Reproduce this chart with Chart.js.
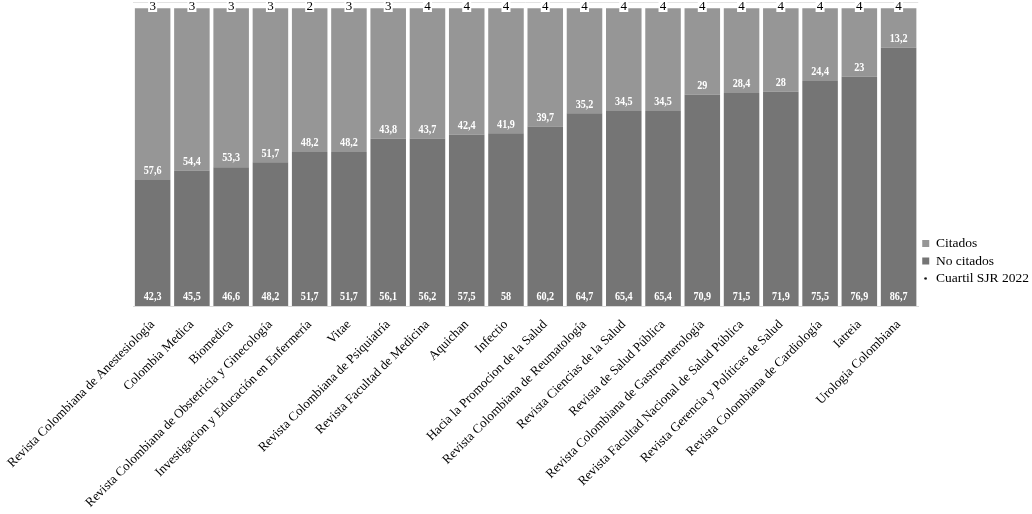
<!DOCTYPE html>
<html lang="es">

<head>
    <meta charset="UTF-8">
    <title>Citados / No citados</title>
    <script src="https://cdn.jsdelivr.net/npm/chart.js@4.4.0/dist/chart.umd.min.js"></script>
    <style>
        html, body { margin: 0; padding: 0; background: #fff; }
        #wrap { width: 1032px; height: 514px; }
    </style>
</head>

<body>
    <div id="wrap"><canvas id="myChart"></canvas></div>
    <script>

        const revistas = [
            'Revista Colombiana de Anestesiología', 'Colombia Medica', 'Biomedica',
            'Revista Colombiana de Obstetricia y Ginecología', 'Investigacion y Educación en Enfermería',
            'Vitae', 'Revista Colombiana de Psiquiatría', 'Revista Facultad de Medicina', 'Aquichan',
            'Infectio', 'Hacia la Promocion de la Salud', 'Revista Colombiana de Reumatología',
            'Revista Ciencias de la Salud', 'Revista de Salud Pública', 'Revista Colombiana de Gastroenterología',
            'Revista Facultad Nacional de Salud Pública', 'Revista Gerencia y Políticas de Salud',
            'Revista Colombiana de Cardiología', 'Iatreia', 'Urologia Colombiana'
        ];
        const noCitados = [42.3, 45.5, 46.6, 48.2, 51.7, 51.7, 56.1, 56.2, 57.5, 58, 60.2, 64.7, 65.4, 65.4, 70.9, 71.5, 71.9, 75.5, 76.9, 86.7];
        const citados = [57.6, 54.4, 53.3, 51.7, 48.2, 48.2, 43.8, 43.7, 42.4, 41.9, 39.7, 35.2, 34.5, 34.5, 29, 28.4, 28, 24.4, 23, 13.2];
        const cuartil = [3, 3, 3, 3, 2, 3, 3, 4, 4, 4, 4, 4, 4, 4, 4, 4, 4, 4, 4, 4];

        const SERIF = "'Liberation Serif', 'Times New Roman', serif";

        // small black dot used as point style (also shows in the legend)
        const dot = document.createElement('canvas');
        dot.width = 3; dot.height = 3;
        const dctx = dot.getContext('2d');
        dctx.fillStyle = '#000';
        dctx.beginPath(); dctx.arc(1.5, 1.5, 1.2, 0, Math.PI * 2); dctx.fill();

        function fmt(v) {
            return String(v).replace('.', ',');
        }

        const labelsPlugin = {
            id: 'labelsPlugin',
            afterDatasetsDraw(chart) {
                const ctx = chart.ctx;
                const area = chart.chartArea;
                ctx.save();
                // thin line over the plot
                ctx.strokeStyle = '#e3e3e3';
                ctx.lineWidth = 1;
                ctx.beginPath();
                ctx.moveTo(area.left, 2.5);
                ctx.lineTo(area.right, 2.5);
                ctx.stroke();

                ctx.textAlign = 'center';
                ctx.textBaseline = 'middle';
                ctx.font = 'bold 13px ' + SERIF;
                ctx.fillStyle = '#fff';
                [0, 1].forEach(function (i) {
                    const meta = chart.getDatasetMeta(i);
                    const vals = chart.data.datasets[i].data;
                    meta.data.forEach(function (bar, j) {
                        ctx.save();
                        ctx.translate(bar.x, bar.base - 9);
                        ctx.scale(0.78, 1);
                        ctx.fillText(fmt(vals[j]), 0, 0);
                        ctx.restore();
                    });
                });
                // quartile labels, boxed at the top
                const meta = chart.getDatasetMeta(2);
                ctx.font = '13px ' + SERIF;
                meta.data.forEach(function (pt, j) {
                    ctx.fillStyle = '#fff';
                    ctx.fillRect(pt.x - 4.5, 0, 9, 12);
                    ctx.fillStyle = '#000';
                    ctx.fillText(String(cuartil[j]), pt.x, 6.5);
                });
                ctx.restore();
            }
        };

        const ctx = document.getElementById('myChart').getContext('2d');
        const myChart = new Chart(ctx, {
            type: 'bar',
            data: {
                labels: revistas,
                datasets: [{
                    label: 'No citados',
                    data: noCitados,
                    backgroundColor: '#757575',
                    pointStyle: 'rect',
                    stack: 's'
                }, {
                    label: 'Citados',
                    data: citados,
                    backgroundColor: '#969696',
                    pointStyle: 'rect',
                    stack: 's'
                }, {
                    type: 'line',
                    label: 'Cuartil SJR 2022',
                    data: cuartil,
                    yAxisID: 'yq',
                    showLine: false,
                    pointStyle: dot,
                    borderColor: '#000',
                    backgroundColor: '#000',
                    clip: false
                }]
            },
            options: {
                responsive: true,
                maintainAspectRatio: false,
                animation: false,
                layout: { padding: { top: 8, right: -7, left: 133 } },
                datasets: { bar: { barPercentage: 1, categoryPercentage: 0.905 } },
                scales: {
                    x: {
                        stacked: true,
                        grid: { display: false },
                        border: { color: '#d9d9d9' },
                        ticks: {
                            color: '#000',
                            font: { family: SERIF, size: 13 },
                            minRotation: 45,
                            maxRotation: 45,
                            autoSkip: false
                        },
                        afterFit: function (scale) { scale.height = 208; }
                    },
                    y: {
                        stacked: true,
                        display: false,
                        min: 0,
                        max: 100
                    },
                    yq: {
                        display: false,
                        min: 0,
                        max: 4.15
                    }
                },
                plugins: {
                    tooltip: { enabled: false },
                    legend: {
                        position: 'right',
                        labels: {
                            usePointStyle: true,
                            boxWidth: 7,
                            boxHeight: 7,
                            color: '#000',
                            padding: 4,
                            font: { family: SERIF, size: 13.5 },
                            sort: function (a, b) {
                                const order = [1, 0, 2];
                                return order.indexOf(a.datasetIndex) - order.indexOf(b.datasetIndex);
                            }
                        }
                    }
                }
            },
            plugins: [labelsPlugin]
        });

    </script>
</body>

</html>
